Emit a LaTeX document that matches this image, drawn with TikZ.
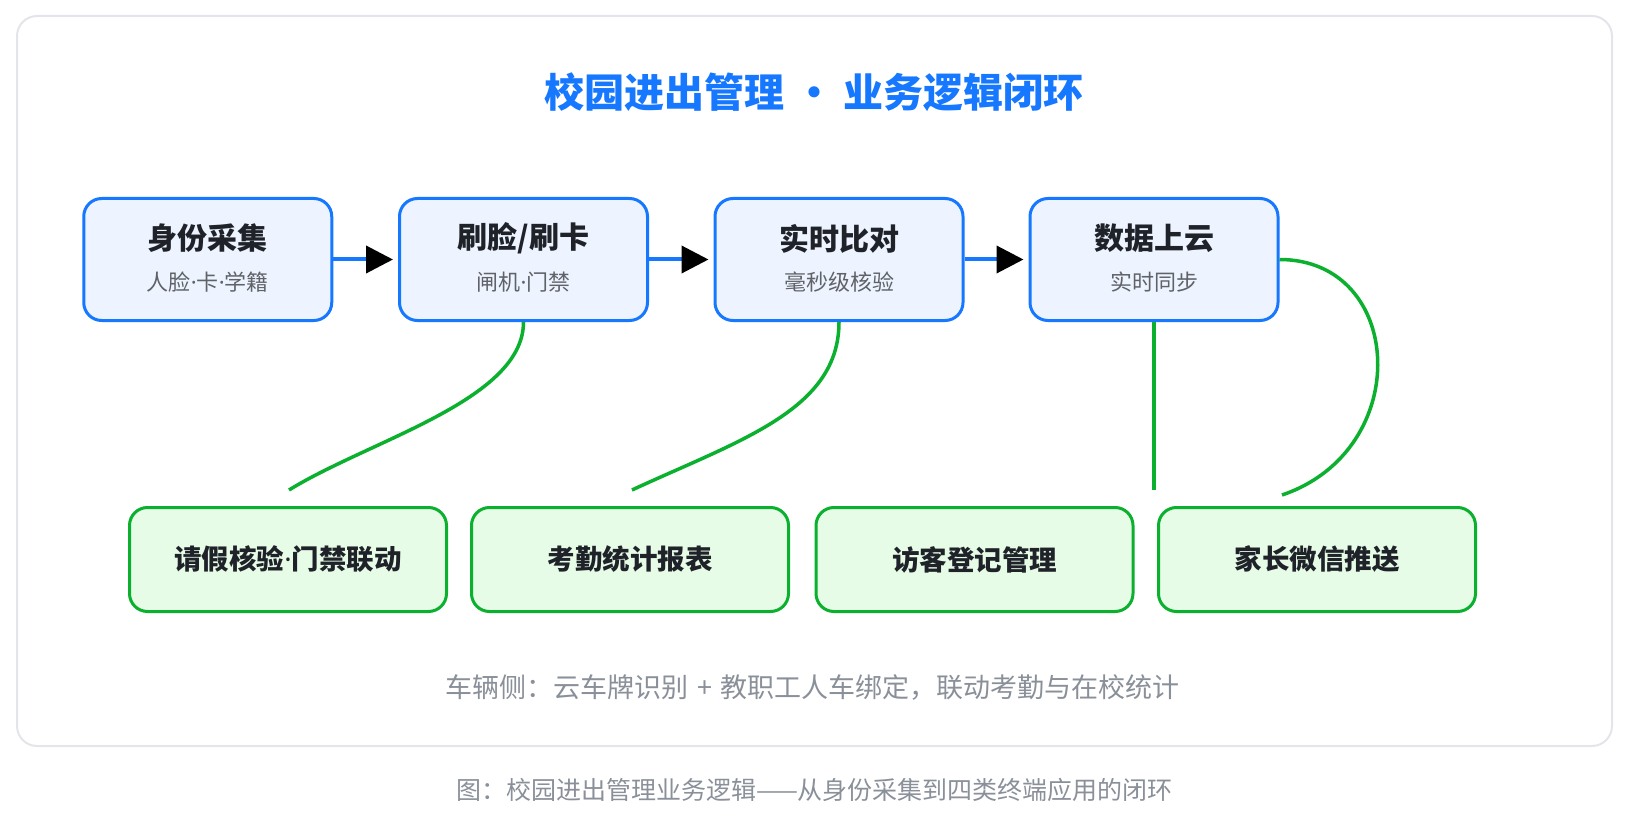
\documentclass[tikz,border=0pt]{standalone}
\usepackage{fontspec}
\setmainfont{Noto Sans CJK SC}
\newfontfamily\latinfont{Noto Sans}
\newcommand{\mdot}{{\latinfont ·}}
\usetikzlibrary{arrows.meta}
\definecolor{brandblue}{HTML}{1677FF}
\definecolor{boxblue}{HTML}{EEF4FF}
\definecolor{lgreen}{HTML}{0AB02E}
\definecolor{boxgreen}{HTML}{E6FCE6}
\definecolor{darktext}{HTML}{1F2329}
\definecolor{subgray}{HTML}{5F6368}
\definecolor{notegray}{HTML}{8A9099}
\definecolor{cardline}{HTML}{E3E5EA}
\tikzset{
  card/.style={draw=cardline, line width=2pt, fill=white, rounded corners=20pt},
  topbox/.style={draw=brandblue, line width=3pt, fill=boxblue, rounded corners=18pt,
    minimum width=248pt, minimum height=122pt, inner sep=0pt},
  botbox/.style={draw=lgreen, line width=3pt, fill=boxgreen, rounded corners=18pt,
    minimum width=317pt, minimum height=104pt, inner sep=0pt,
    text=darktext, font=\fontsize{27.5pt}{32pt}\selectfont\bfseries},
  maintitle/.style={inner sep=0pt, text=brandblue, font=\fontsize{40pt}{48pt}\selectfont\bfseries},
  boxtitle/.style={inner sep=0pt, text=darktext, font=\fontsize{30pt}{35pt}\selectfont\bfseries},
  boxsub/.style={inner sep=0pt, text=subgray, font=\fontsize{22pt}{26pt}\selectfont},
  notetext/.style={inner sep=0pt, text=notegray, font=\fontsize{27pt}{31pt}\selectfont},
  captext/.style={inner sep=0pt, text=notegray, font=\fontsize{25pt}{29pt}\selectfont},
  flow/.style={draw=brandblue, line width=4pt, shorten >=5pt,
    -{Triangle[length=27pt,width=27pt,color=black]}},
  link/.style={draw=lgreen, line width=3.5pt}
}
\begin{document}
\begin{tikzpicture}[x=1pt,y=-1pt]
\useasboundingbox (0,0) rectangle (1631,829);
\draw[card] (17,16) rectangle (1612,746);

\node[maintitle] (title) at (814,92.5) {校园进出管理 • 业务逻辑闭环};

\node[topbox] (b1) at (207.75,259.5) {};
\node[topbox] (b2) at (523.5,259.5) {};
\node[topbox] (b3) at (839,259.5) {};
\node[topbox] (b4) at (1154,259.5) {};

\node[boxtitle] (t1) at (207.75,238.5) {身份采集};
\node[boxsub]   (s1) at (207.75,282) {人脸\mdot 卡\mdot 学籍};
\node[boxtitle] (t2) at (523.5,238.5) {刷脸/刷卡};
\node[boxsub]   (s2) at (523.5,282) {闸机\mdot 门禁};
\node[boxtitle] (t3) at (839,238.5) {实时比对};
\node[boxsub]   (s3) at (839,282) {毫秒级核验};
\node[boxtitle] (t4) at (1154,238.5) {数据上云};
\node[boxsub]   (s4) at (1154,282) {实时同步};

\draw[flow] (b1.east) -- (b2.west);
\draw[flow] (b2.east) -- (b3.west);
\draw[flow] (b3.east) -- (b4.west);

\node[botbox] (a1) at (288,559.5) {请假核验\mdot 门禁联动};
\node[botbox] (a2) at (630,559.5) {考勤统计报表};
\node[botbox] (a3) at (974.5,559.5) {访客登记管理};
\node[botbox] (a4) at (1317,559.5) {家长微信推送};

\coordinate (e1) at (289,490);
\coordinate (e2) at (632,490);
\coordinate (e3) at (1154,490);
\coordinate (e4) at (1282,495);

\draw[link] (b2.south) .. controls (523.5,400) and (370,440) .. (e1);
\draw[link] (b3.south) .. controls (839,410) and (740,440) .. (e2);
\draw[link] (b4.south) -- (e3);
\draw[link] (b4.east) .. controls (1405,259.5) and (1415,450) .. (e4);

\node[notetext] (note) at (812.5,687.5) {车辆侧：云车牌识别\hspace{9pt}+\hspace{9pt}教职工人车绑定，联动考勤与在校统计};
\node[captext] (cap) at (814.5,790) {图：校园进出管理业务逻辑——从身份采集到四类终端应用的闭环};
\end{tikzpicture}
\end{document}
